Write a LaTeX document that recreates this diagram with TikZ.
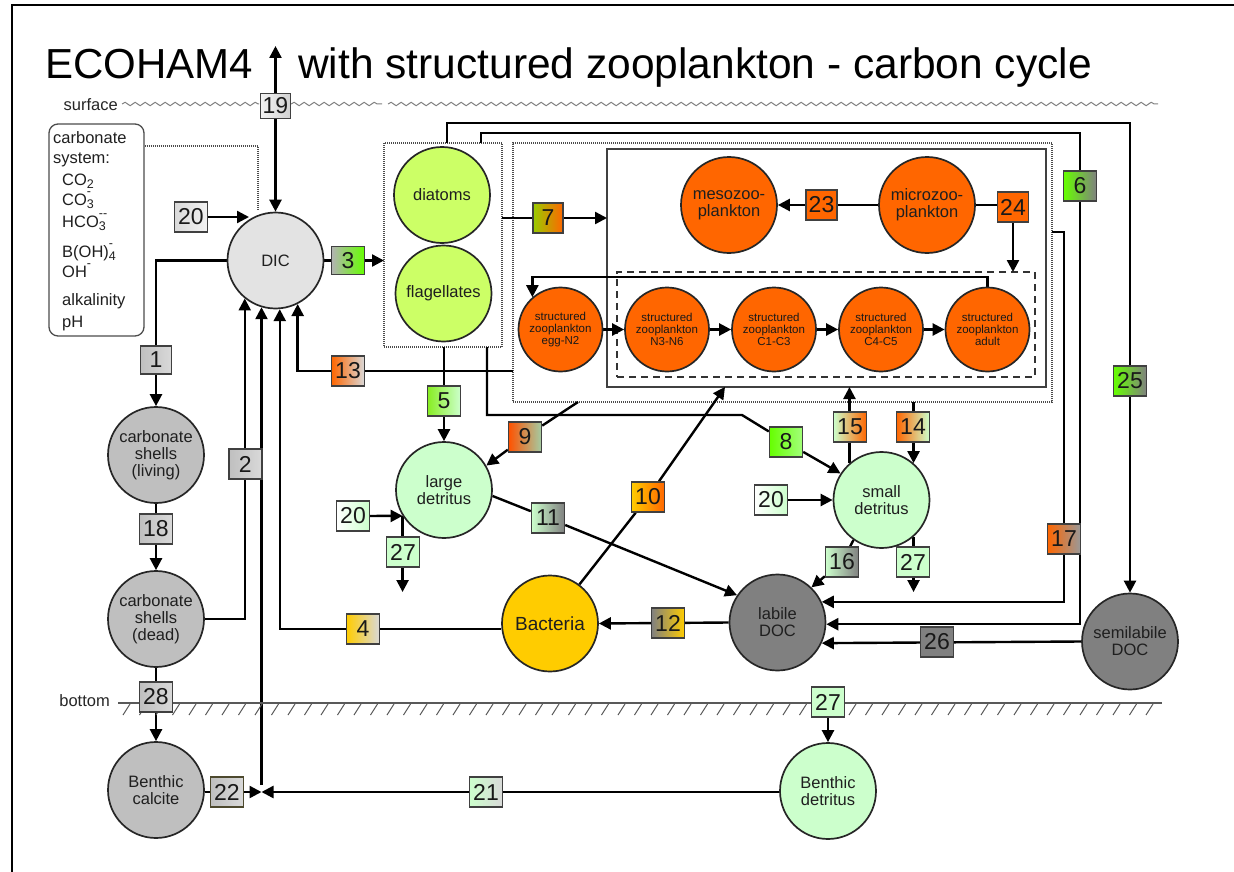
\documentclass[tikz,border=0pt]{standalone}
\usepackage{fontspec}
\setmainfont{Liberation Sans}
\usetikzlibrary{arrows.meta,decorations.pathmorphing,calc}
\pgfdeclarelayer{back}
\pgfsetlayers{back,main}
\definecolor{cZoo}{HTML}{FF6600}
\definecolor{cPhyto}{HTML}{CCFF66}
\definecolor{cDet}{HTML}{CCFFCC}
\definecolor{cBac}{HTML}{FFCC00}
\definecolor{cDoc}{HTML}{808080}
\definecolor{cCarb}{HTML}{BFBFBF}
\definecolor{cDIC}{HTML}{E3E3E3}
\definecolor{cLime}{HTML}{66FF00}
\definecolor{cLG}{HTML}{D9D9D9}
\definecolor{cGrn}{HTML}{88EE22}
\definecolor{cOlv}{HTML}{99CC00}
\newcommand\csub[1]{\raisebox{-0.45ex}{\fontsize{12.5}{12.5}\selectfont #1}}
\newcommand\csup[1]{\raisebox{1.05ex}{\fontsize{12.5}{12.5}\selectfont #1}}
\newcommand\cboth[2]{\rlap{\csup{#2}}\csub{#1}}
\begin{document}
\begin{tikzpicture}[x=1pt,y=-1pt,
 flow/.style={line width=2.4pt,-{Triangle[length=12pt,width=12pt]}},
 circ/.style={circle,draw=black!85,line width=1.7pt,minimum size=96pt,inner sep=0pt,align=center,
   text=black!88,font=\fontsize{16.5}{17}\selectfont},
 stage/.style={circ,minimum size=84pt,fill=cZoo,text=black!90,font=\fontsize{11.5}{12}\selectfont},
 flux/.style={draw=black!75,line width=1.4pt,minimum width=33pt,minimum height=30pt,inner sep=0pt,
   text=black!90,font=\fontsize{23}{23}\selectfont},
 dotbox/.style={draw=black!70,line width=1.2pt,dash pattern=on 1pt off 1pt,inner sep=0pt,outer sep=0pt},
 cstext/.style={anchor=base west,inner sep=0pt,font=\fontsize{16.5}{17}\selectfont,text=black!88},
 hatch/.style={draw=black!65,line width=1pt},
 wave/.style={draw=black!50,line width=1pt,decorate,decoration={snake,segment length=10pt,amplitude=1.7pt}}]
\useasboundingbox (0,0) rectangle (1234,872);

% frame
\draw[line width=2.5pt] (12,872) -- (12,5) -- (1234,5);

% title
\node[anchor=base west,inner sep=0pt,font=\fontsize{42}{42}\selectfont] (title1) at (45,79) {ECOHAM4};
\node[anchor=base west,inner sep=0pt,font=\fontsize{42.5}{42.5}\selectfont] (title2) at (298,79) {with structured zooplankton - carbon cycle};

% surface and bottom
\node[anchor=east,inner sep=0pt,font=\fontsize{16.5}{17}\selectfont,text=black!85] (surf) at (118,105) {surface};
\node[anchor=east,inner sep=0pt,font=\fontsize{16.5}{17}\selectfont,text=black!85] (bot) at (110,701) {bottom};
\draw[wave] (122,104) -- (259,104);
\draw[wave] (291,104) -- (382,104);
\draw[wave] (388,104) -- (1158,104);
\draw[draw=black!65,line width=1.2pt] (118,703) -- (1162,703);
\foreach \x in {123,139.5,...,1160} { \draw[hatch] (\x,715) -- ++(7,-11); }

% containers
\begin{pgfonlayer}{back}
\node[dotbox,minimum width=118pt,minimum height=204pt] (phyto) at (443,245) {};
\node[dotbox,minimum width=539pt,minimum height=259pt] (zooD) at (782.5,272.5) {};
\node[draw=black!75,line width=1.6pt,inner sep=0pt,outer sep=0pt,minimum width=439pt,minimum height=238pt] (solid) at (826.5,268) {};
\node[draw=black!80,line width=1.6pt,dash pattern=on 7pt off 5pt,inner sep=0pt,outer sep=0pt,minimum width=418pt,minimum height=105pt] (dashed) at (826,324.5) {};
\end{pgfonlayer}

% carbonate system box
\node[draw=black!70,line width=1.3pt,rounded corners=9pt,minimum width=95pt,minimum height=212pt,inner sep=0pt] (carb) at (96.5,230) {};
\node[cstext] (cs1) at (53,143) {carbonate};
\node[cstext] (cs2) at (53,164) {system:};
\node[cstext] (cs3) at (62,185) {CO\csub{2}};
\node[cstext] (cs4) at (62,205) {CO\cboth{3}{-}};
\node[cstext] (cs5) at (62,227) {HCO\cboth{3}{-{}-}};
\node[cstext] (cs6) at (62,257) {B(OH)\cboth{4}{-}};
\node[cstext] (cs7) at (62,277) {OH\csup{-}};
\node[cstext] (cs8) at (62,305) {alkalinity};
\node[cstext] (cs9) at (62,327) {pH};
\coordinate (cd) at (258,146);
\draw[dotbox] (carb.east |- cd) -- (cd) -- ++(0,64);

% state variables
\node[circ,fill=cDIC] (DIC) at (275.5,260.5) {DIC};
\node[circ,fill=cCarb] (shellsL) at (156,455) {carbonate\\shells\\(living)};
\node[circ,fill=cCarb] (shellsD) at (156,619) {carbonate\\shells\\(dead)};
\node[circ,fill=cCarb] (calcite) at (156,790) {Benthic\\calcite};
\node[circ,fill=cPhyto] (diatoms) at (442,195) {diatoms};
\node[circ,fill=cPhyto] (flag) at (443.5,293.5) {flagellates};
\node[circ,fill=cZoo] (meso) at (729,205) {mesozoo-\\plankton};
\node[circ,fill=cZoo] (micro) at (927,205) {microzoo-\\plankton};
\node[stage] (sz1) at (560.5,329.5) {structured\\zooplankton\\egg-N2};
\node[stage] (sz2) at (667,329.5) {structured\\zooplankton\\N3-N6};
\node[stage] (sz3) at (774,329.5) {structured\\zooplankton\\C1-C3};
\node[stage] (sz4) at (881,329.5) {structured\\zooplankton\\C4-C5};
\node[stage] (sz5) at (987.5,329.5) {structured\\zooplankton\\adult};
\node[circ,fill=cDet] (largeDet) at (444,490) {large\\detritus};
\node[circ,fill=cDet] (smallDet) at (881.5,500) {small\\detritus};
\node[circ,fill=cBac,font=\fontsize{19}{20}\selectfont] (bact) at (550,623.5) {Bacteria};
\node[circ,fill=cDoc] (labile) at (777.5,622.5) {labile\\DOC};
\node[circ,fill=cDoc] (semil) at (1130,641.5) {semilabile\\DOC};
\node[circ,fill=cDet] (bdet) at (828,791) {Benthic\\detritus};

% flux boxes
\node[flux,minimum width=30pt,minimum height=25pt,left color=white!95!black,right color=black!18] (b19) at (275.5,106) {19};
\node[flux,left color=cLG,right color=white!95!black] (b20a) at (191,217) {20};
\node[flux,minimum height=28pt,left color=black!30,right color=cLime] (b3) at (348,260.5) {3};
\node[flux,minimum width=31pt,minimum height=28pt,left color=cCarb,right color=cLG] (b1) at (156,360) {1};
\node[flux,left color=cZoo,right color=cLG] (b13) at (348,371) {13};
\node[flux,left color=cCarb,right color=cLG] (b2) at (245.3,464) {2};
\node[flux,left color=cCarb,right color=cLG] (b18) at (156,529) {18};
\node[flux,left color=cCarb,right color=cLG] (b28) at (156,697) {28};
\node[flux,draw=black!60!olive,left color=cCarb,right color=cLG] (b22) at (227,792) {22};
\node[flux,left color=cDet,right color=cLG] (b21) at (486,792) {21};
\node[flux,left color=cBac,right color=cLG] (b4) at (363,629) {4};
\node[flux,left color=cGrn,right color=cDet] (b5) at (444,401) {5};
\node[flux,minimum width=30pt,left color=cOlv,right color=cZoo] (b7) at (548,218) {7};
\node[flux,left color=cZoo!80!red,right color=cDet!80!black] (b9) at (525,437) {9};
\node[flux,left color=cBac,right color=cZoo] (b10) at (648,497) {10};
\node[flux,left color=cDet,right color=cDoc] (b11) at (548,518) {11};
\node[flux,left color=cDoc,right color=cBac] (b12) at (668,623) {12};
\node[flux,left color=cLime,right color=cDet!60!cLime] (b8) at (786,442) {8};
\node[flux,left color=white,right color=cDet] (b20b) at (353,516) {20};
\node[flux,left color=cDet,right color=cDet] (b27a) at (403,552) {27};
\node[flux,left color=white,right color=cDet] (b20c) at (771,500) {20};
\node[flux,left color=cDet,right color=cZoo] (b15) at (850,427) {15};
\node[flux,left color=cZoo,right color=cDet] (b14) at (913,427) {14};
\node[flux,left color=cDet,right color=cDoc] (b16) at (842,562) {16};
\node[flux,left color=cDet,right color=cDet] (b27b) at (913,562) {27};
\node[flux,left color=cZoo,right color=black!40] (b17) at (1064,539) {17};
\node[flux,fill=cDoc] (b26) at (937,642) {26};
\node[flux,left color=cDet,right color=cDet] (b27c) at (828,702) {27};
\node[flux,left color=cLime,right color=cDoc] (b6) at (1080,186) {6};
\node[flux,left color=cLime,right color=cDoc] (b25) at (1130,381) {25};
\node[flux,minimum width=31pt,fill=cZoo] (b23) at (821.5,205) {23};
\node[flux,minimum width=31pt,fill=cZoo] (b24) at (1013,207) {24};

% helper coordinates
\coordinate (t19) at (275.5,46);
\coordinate (t20a) at (249,217);
\coordinate (J) at (261.5,792);
\coordinate (Jtop) at (261.5,785);
\coordinate (c8a) at (487,415);
\coordinate (c8b) at (742,415);
\coordinate (c25a) at (447,123);
\coordinate (c25b) at (1130,123);
\coordinate (c6a) at (481,133);
\coordinate (c6b) at (1080,133);
\coordinate (c17) at (1064,232);
\coordinate (c10) at (725,387);
\coordinate (c9) at (578,402);
\coordinate (J20) at (largeDet.212);
\coordinate (e27) at (403,592);

% connectors
\begin{pgfonlayer}{back}
\draw[flow] (b19) -- (t19);
\draw[flow] (b19) -- (DIC.north);
\draw[flow] (b20a) -- (t20a);
\draw[flow] (DIC.east) -- (phyto.west |- DIC.east);
\draw[flow] (DIC.west) -| (shellsL.north);
\draw[flow] (shellsL) -- (shellsD);
\draw[flow] (shellsD) -- (calcite);
\draw[flow] (shellsD.east) -| (DIC.231);
\draw[flow] (calcite.east |- J) -- (J);
\draw[flow] (bdet.west |- J) -- (J);
\draw[flow] (Jtop) -- (Jtop |- DIC.253);
\draw[flow] (bact.west |- b4) -| (DIC.275);
\draw[flow] (zooD.west |- b13) -| (DIC.-63);
\draw[flow] (largeDet.north |- phyto.south) -- (largeDet.north);
\draw[flow] (c8a |- phyto.south) -- (c8a) -- (c8b) -- (b8) -- (smallDet.147);
\draw[flow] (phyto.east |- b7) -- (solid.west |- b7);
\draw[flow] (c25a |- phyto.north) -- (c25a) -- (c25b) -- (semil.north);
\draw[flow] (c6a |- phyto.north) -- (c6a) -- (c6b) |- (labile.-2);
\draw[flow] (zooD.east |- c17) -- (c17) |- (labile.25);
\draw[flow] (semil.west) -- (labile.-25);
\draw[flow] (labile.west) -- (bact.east);
\draw[flow] (bact.53) -- (b10) -- (c10);
\draw[flow] (largeDet.-7) -- (b11) -- (labile.146);
\draw[flow] (c9) -- (b9) -- (largeDet.30);
\draw[flow] (b20b) -- (J20);
\draw[flow] (J20) -- (J20 |- e27);
\draw[flow] (zooD.south -| smallDet.49) -- (smallDet.49);
\draw[flow] (smallDet.131) -- (smallDet.131 |- solid.south);
\draw[flow] (smallDet.-49) -- (smallDet.-49 |- e27);
\draw[flow] (smallDet.235) -- (b16) -- (labile.46);
\draw[flow] (b20c) -- (smallDet.west);
\draw[flow] (micro.west) -- (meso.east);
\draw[flow] (micro.east) -| (b24.center |- dashed.north);
\draw[flow] (sz1) -- (sz2);
\draw[flow] (sz2) -- (sz3);
\draw[flow] (sz3) -- (sz4);
\draw[flow] (sz4) -- (sz5);
\draw[flow] (sz5.north) -- ++(0,-9.5) -| (sz1.131);
\draw[flow] (b27c) -- (bdet.north);
\end{pgfonlayer}
\end{tikzpicture}
\end{document}
